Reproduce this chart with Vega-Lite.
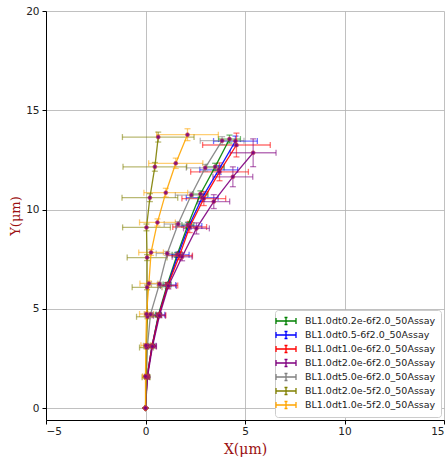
{
  "$schema": "https://vega.github.io/schema/vega-lite/v6.json",
  "autosize": {"type": "none"},
  "padding": {"left": 46, "top": 11, "right": 1, "bottom": 39},
  "width": 398,
  "height": 409,
  "background": "white",
  "config": {
    "font": "DejaVu Sans",
    "view": {"stroke": null},
    "axis": {"gridColor": "#b0b0b0", "gridWidth": 0.8, "gridOpacity": 1, "domainColor": "#000000", "domainWidth": 1, "tickColor": "#000000", "tickSize": 4, "labelFontSize": 10, "labelColor": "#222222", "labelFont": "DejaVu Sans", "titleFont": "DejaVu Serif", "titleFontWeight": "normal", "titleColor": "#9b1010", "titleFontSize": 14}
  },
  "data": {"values": [
    {"s": "BL1.0dt0.2e-6f2.0_50Assay", "i": 0, "x": 0, "y": 0, "xerr": 0, "yerr": 0},
    {"s": "BL1.0dt0.2e-6f2.0_50Assay", "i": 1, "x": 0.08, "y": 1.58, "xerr": 0.05, "yerr": 0.03},
    {"s": "BL1.0dt0.2e-6f2.0_50Assay", "i": 2, "x": 0.33, "y": 3.14, "xerr": 0.1, "yerr": 0.05},
    {"s": "BL1.0dt0.2e-6f2.0_50Assay", "i": 3, "x": 0.65, "y": 4.7, "xerr": 0.15, "yerr": 0.07},
    {"s": "BL1.0dt0.2e-6f2.0_50Assay", "i": 4, "x": 1.09, "y": 6.22, "xerr": 0.2, "yerr": 0.1},
    {"s": "BL1.0dt0.2e-6f2.0_50Assay", "i": 5, "x": 1.59, "y": 7.72, "xerr": 0.25, "yerr": 0.12},
    {"s": "BL1.0dt0.2e-6f2.0_50Assay", "i": 6, "x": 2.13, "y": 9.22, "xerr": 0.3, "yerr": 0.14},
    {"s": "BL1.0dt0.2e-6f2.0_50Assay", "i": 7, "x": 2.76, "y": 10.78, "xerr": 0.38, "yerr": 0.16},
    {"s": "BL1.0dt0.2e-6f2.0_50Assay", "i": 8, "x": 3.5, "y": 12.15, "xerr": 0.45, "yerr": 0.18},
    {"s": "BL1.0dt0.2e-6f2.0_50Assay", "i": 9, "x": 4.22, "y": 13.55, "xerr": 0.55, "yerr": 0.2},

    {"s": "BL1.0dt0.5-6f2.0_50Assay", "i": 0, "x": 0, "y": 0, "xerr": 0, "yerr": 0},
    {"s": "BL1.0dt0.5-6f2.0_50Assay", "i": 1, "x": 0.08, "y": 1.58, "xerr": 0.1, "yerr": 0.03},
    {"s": "BL1.0dt0.5-6f2.0_50Assay", "i": 2, "x": 0.33, "y": 3.14, "xerr": 0.2, "yerr": 0.06},
    {"s": "BL1.0dt0.5-6f2.0_50Assay", "i": 3, "x": 0.67, "y": 4.7, "xerr": 0.3, "yerr": 0.08},
    {"s": "BL1.0dt0.5-6f2.0_50Assay", "i": 4, "x": 1.12, "y": 6.2, "xerr": 0.4, "yerr": 0.1},
    {"s": "BL1.0dt0.5-6f2.0_50Assay", "i": 5, "x": 1.64, "y": 7.72, "xerr": 0.55, "yerr": 0.13},
    {"s": "BL1.0dt0.5-6f2.0_50Assay", "i": 6, "x": 2.18, "y": 9.17, "xerr": 0.65, "yerr": 0.15},
    {"s": "BL1.0dt0.5-6f2.0_50Assay", "i": 7, "x": 2.85, "y": 10.6, "xerr": 0.8, "yerr": 0.18},
    {"s": "BL1.0dt0.5-6f2.0_50Assay", "i": 8, "x": 3.68, "y": 12.0, "xerr": 0.95, "yerr": 0.22},
    {"s": "BL1.0dt0.5-6f2.0_50Assay", "i": 9, "x": 4.52, "y": 13.45, "xerr": 1.1, "yerr": 0.25},

    {"s": "BL1.0dt1.0e-6f2.0_50Assay", "i": 0, "x": 0, "y": 0, "xerr": 0, "yerr": 0},
    {"s": "BL1.0dt1.0e-6f2.0_50Assay", "i": 1, "x": 0.08, "y": 1.58, "xerr": 0.1, "yerr": 0.03},
    {"s": "BL1.0dt1.0e-6f2.0_50Assay", "i": 2, "x": 0.33, "y": 3.12, "xerr": 0.2, "yerr": 0.06},
    {"s": "BL1.0dt1.0e-6f2.0_50Assay", "i": 3, "x": 0.67, "y": 4.68, "xerr": 0.35, "yerr": 0.1},
    {"s": "BL1.0dt1.0e-6f2.0_50Assay", "i": 4, "x": 1.12, "y": 6.18, "xerr": 0.5, "yerr": 0.15},
    {"s": "BL1.0dt1.0e-6f2.0_50Assay", "i": 5, "x": 1.71, "y": 7.68, "xerr": 0.65, "yerr": 0.2},
    {"s": "BL1.0dt1.0e-6f2.0_50Assay", "i": 6, "x": 2.22, "y": 9.12, "xerr": 0.85, "yerr": 0.28},
    {"s": "BL1.0dt1.0e-6f2.0_50Assay", "i": 7, "x": 2.93, "y": 10.55, "xerr": 1.1, "yerr": 0.35},
    {"s": "BL1.0dt1.0e-6f2.0_50Assay", "i": 8, "x": 3.72, "y": 11.9, "xerr": 1.45, "yerr": 0.45},
    {"s": "BL1.0dt1.0e-6f2.0_50Assay", "i": 9, "x": 4.57, "y": 13.25, "xerr": 1.7, "yerr": 0.6},

    {"s": "BL1.0dt2.0e-6f2.0_50Assay", "i": 0, "x": 0, "y": 0, "xerr": 0, "yerr": 0},
    {"s": "BL1.0dt2.0e-6f2.0_50Assay", "i": 1, "x": 0.1, "y": 1.56, "xerr": 0.1, "yerr": 0.03},
    {"s": "BL1.0dt2.0e-6f2.0_50Assay", "i": 2, "x": 0.35, "y": 3.1, "xerr": 0.2, "yerr": 0.06},
    {"s": "BL1.0dt2.0e-6f2.0_50Assay", "i": 3, "x": 0.7, "y": 4.65, "xerr": 0.3, "yerr": 0.1},
    {"s": "BL1.0dt2.0e-6f2.0_50Assay", "i": 4, "x": 1.15, "y": 6.15, "xerr": 0.4, "yerr": 0.15},
    {"s": "BL1.0dt2.0e-6f2.0_50Assay", "i": 5, "x": 1.84, "y": 7.62, "xerr": 0.5, "yerr": 0.2},
    {"s": "BL1.0dt2.0e-6f2.0_50Assay", "i": 6, "x": 2.56, "y": 9.05, "xerr": 0.65, "yerr": 0.28},
    {"s": "BL1.0dt2.0e-6f2.0_50Assay", "i": 7, "x": 3.43, "y": 10.4, "xerr": 0.8, "yerr": 0.35},
    {"s": "BL1.0dt2.0e-6f2.0_50Assay", "i": 8, "x": 4.39, "y": 11.65, "xerr": 1.0, "yerr": 0.5},
    {"s": "BL1.0dt2.0e-6f2.0_50Assay", "i": 9, "x": 5.41, "y": 12.86, "xerr": 1.15, "yerr": 0.7},

    {"s": "BL1.0dt5.0e-6f2.0_50Assay", "i": 0, "x": 0, "y": 0, "xerr": 0, "yerr": 0},
    {"s": "BL1.0dt5.0e-6f2.0_50Assay", "i": 1, "x": 0.05, "y": 1.58, "xerr": 0.1, "yerr": 0.02},
    {"s": "BL1.0dt5.0e-6f2.0_50Assay", "i": 2, "x": 0.1, "y": 3.14, "xerr": 0.2, "yerr": 0.04},
    {"s": "BL1.0dt5.0e-6f2.0_50Assay", "i": 3, "x": 0.25, "y": 4.72, "xerr": 0.3, "yerr": 0.06},
    {"s": "BL1.0dt5.0e-6f2.0_50Assay", "i": 4, "x": 0.7, "y": 6.25, "xerr": 0.4, "yerr": 0.08},
    {"s": "BL1.0dt5.0e-6f2.0_50Assay", "i": 5, "x": 1.09, "y": 7.79, "xerr": 0.55, "yerr": 0.1},
    {"s": "BL1.0dt5.0e-6f2.0_50Assay", "i": 6, "x": 1.64, "y": 9.27, "xerr": 0.7, "yerr": 0.12},
    {"s": "BL1.0dt5.0e-6f2.0_50Assay", "i": 7, "x": 2.3, "y": 10.73, "xerr": 0.8, "yerr": 0.14},
    {"s": "BL1.0dt5.0e-6f2.0_50Assay", "i": 8, "x": 3.0, "y": 12.1, "xerr": 0.95, "yerr": 0.17},
    {"s": "BL1.0dt5.0e-6f2.0_50Assay", "i": 9, "x": 3.85, "y": 13.47, "xerr": 1.1, "yerr": 0.2},

    {"s": "BL1.0dt2.0e-5f2.0_50Assay", "i": 0, "x": 0, "y": 0, "xerr": 0, "yerr": 0},
    {"s": "BL1.0dt2.0e-5f2.0_50Assay", "i": 1, "x": 0.03, "y": 1.55, "xerr": 0.2, "yerr": 0.05},
    {"s": "BL1.0dt2.0e-5f2.0_50Assay", "i": 2, "x": 0.05, "y": 3.05, "xerr": 0.35, "yerr": 0.07},
    {"s": "BL1.0dt2.0e-5f2.0_50Assay", "i": 3, "x": 0.1, "y": 4.6, "xerr": 0.55, "yerr": 0.1},
    {"s": "BL1.0dt2.0e-5f2.0_50Assay", "i": 4, "x": 0.08, "y": 6.08, "xerr": 0.75, "yerr": 0.12},
    {"s": "BL1.0dt2.0e-5f2.0_50Assay", "i": 5, "x": 0.08, "y": 7.58, "xerr": 1.0, "yerr": 0.15},
    {"s": "BL1.0dt2.0e-5f2.0_50Assay", "i": 6, "x": 0.05, "y": 9.1, "xerr": 1.2, "yerr": 0.17},
    {"s": "BL1.0dt2.0e-5f2.0_50Assay", "i": 7, "x": 0.22, "y": 10.6, "xerr": 1.4, "yerr": 0.2},
    {"s": "BL1.0dt2.0e-5f2.0_50Assay", "i": 8, "x": 0.47, "y": 12.15, "xerr": 1.6, "yerr": 0.22},
    {"s": "BL1.0dt2.0e-5f2.0_50Assay", "i": 9, "x": 0.64, "y": 13.65, "xerr": 1.8, "yerr": 0.25},

    {"s": "BL1.0dt1.0e-5f2.0_50Assay", "i": 0, "x": 0, "y": 0, "xerr": 0, "yerr": 0},
    {"s": "BL1.0dt1.0e-5f2.0_50Assay", "i": 1, "x": 0.0, "y": 1.6, "xerr": 0.15, "yerr": 0.05},
    {"s": "BL1.0dt1.0e-5f2.0_50Assay", "i": 2, "x": 0.02, "y": 3.16, "xerr": 0.25, "yerr": 0.07},
    {"s": "BL1.0dt1.0e-5f2.0_50Assay", "i": 3, "x": 0.05, "y": 4.74, "xerr": 0.35, "yerr": 0.1},
    {"s": "BL1.0dt1.0e-5f2.0_50Assay", "i": 4, "x": 0.17, "y": 6.28, "xerr": 0.45, "yerr": 0.12},
    {"s": "BL1.0dt1.0e-5f2.0_50Assay", "i": 5, "x": 0.28, "y": 7.84, "xerr": 0.62, "yerr": 0.15},
    {"s": "BL1.0dt1.0e-5f2.0_50Assay", "i": 6, "x": 0.6, "y": 9.35, "xerr": 0.9, "yerr": 0.18},
    {"s": "BL1.0dt1.0e-5f2.0_50Assay", "i": 7, "x": 1.02, "y": 10.85, "xerr": 1.1, "yerr": 0.22},
    {"s": "BL1.0dt1.0e-5f2.0_50Assay", "i": 8, "x": 1.52, "y": 12.33, "xerr": 1.36, "yerr": 0.26},
    {"s": "BL1.0dt1.0e-5f2.0_50Assay", "i": 9, "x": 2.11, "y": 13.77, "xerr": 1.55, "yerr": 0.3}
  ]},
  "encoding": {
    "y": {"field": "y", "type": "quantitative", "scale": {"domain": [-0.6, 20], "nice": false, "zero": false},
          "axis": {"title": "Y(μm)", "values": [0, 5, 10, 15, 20], "titlePadding": 3, "labelPadding": 3, "labelFontSize": 10.5, "titleFontSize": 13}},
    "color": {"field": "s", "type": "nominal",
      "scale": {"domain": ["BL1.0dt0.2e-6f2.0_50Assay", "BL1.0dt0.5-6f2.0_50Assay", "BL1.0dt1.0e-6f2.0_50Assay", "BL1.0dt2.0e-6f2.0_50Assay", "BL1.0dt5.0e-6f2.0_50Assay", "BL1.0dt2.0e-5f2.0_50Assay", "BL1.0dt1.0e-5f2.0_50Assay"],
                "range": ["#008000", "#0000ff", "#ff0000", "#800080", "#808080", "#808000", "#ffa500"]},
      "legend": {"title": null, "orient": "bottom-right", "offset": 3, "labelFontSize": 9.5, "labelColor": "#222222",
                 "symbolType": "M-2,0H2M-2,-0.6V0.6M2,-0.6V0.6M0,-0.7V0.7M-0.3,-0.7H0.3M-0.3,0.7H0.3",
                 "symbolSize": 100, "symbolStrokeWidth": 1.3, "symbolFillColor": "transparent", "symbolOpacity": 1, "rowPadding": 0, "labelOffset": 13,
                 "padding": 5, "strokeColor": "#cccccc", "fillColor": "white", "cornerRadius": 3}}
  },
  "layer": [
    {
      "mark": {"type": "errorbar", "ticks": {"size": 6}, "thickness": 1.3, "opacity": 0.55},
      "encoding": {
        "x": {"field": "x", "type": "quantitative", "scale": {"domain": [-5, 15], "nice": false, "zero": false},
              "axis": {"title": "X(μm)", "values": [-5, 0, 5, 10, 15], "titlePadding": 6, "labelFontSize": 10.5}},
        "xError": {"field": "xerr"}
      }
    },
    {
      "mark": {"type": "errorbar", "ticks": {"size": 6}, "thickness": 1.3, "opacity": 0.55},
      "encoding": {
        "x": {"field": "x", "type": "quantitative"},
        "yError": {"field": "yerr"}
      }
    },
    {
      "mark": {"type": "line", "strokeWidth": 1.3, "opacity": 0.9},
      "encoding": {
        "x": {"field": "x", "type": "quantitative"},
        "order": {"field": "i", "type": "quantitative"}
      }
    },
    {
      "mark": {"type": "point", "shape": "circle", "filled": true, "size": 16, "fill": "#800080", "stroke": "#c84040", "strokeWidth": 0.6, "opacity": 0.9},
      "encoding": {
        "x": {"field": "x", "type": "quantitative"},
        "color": {"value": "#800080"}
      }
    }
  ]
}
